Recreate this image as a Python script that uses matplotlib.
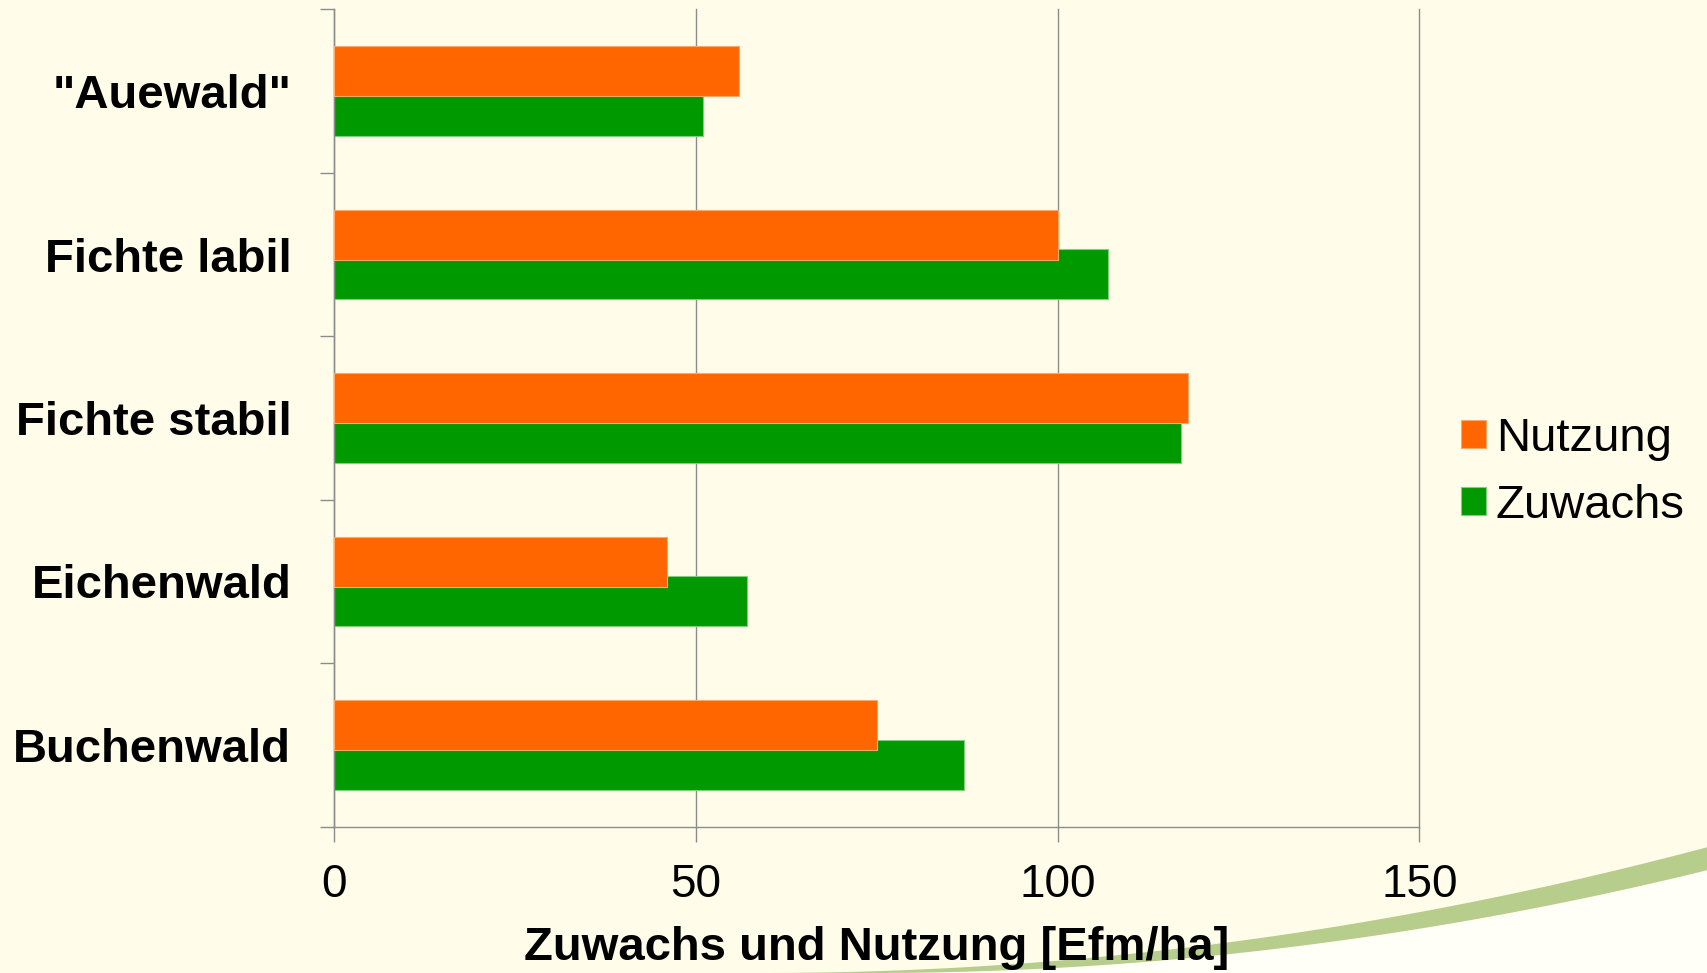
import numpy as np
import matplotlib
matplotlib.use("Agg")
import matplotlib.pyplot as plt
from matplotlib.patches import Polygon

plt.rcParams['font.family'] = ['Liberation Sans', 'DejaVu Sans']

# data, top to bottom
categories = ['"Auewald"', 'Fichte labil', 'Fichte stabil', 'Eichenwald', 'Buchenwald']
nutzung = [56, 100, 118, 46, 75]
zuwachs = [51, 107, 117, 57, 87]
x_ticks = [0, 50, 100, 150]

cream = '#fffce9'
orange = '#ff6600'
green = '#009900'
grey = '#8c8c8c'

W, H = 1708, 973
fig = plt.figure(figsize=(W / 100, H / 100), dpi=100, facecolor=cream)

# decorative swoosh in the lower right corner (pixel coords -> figure fraction)
xs_up = np.linspace(762, W, 200)
y_up = 973 - 1.408e-4 * (xs_up - 762) ** 2
xs_lo = np.linspace(870, W, 200)
y_lo = 973 - 1.467e-4 * (xs_lo - 870) ** 2
band = np.vstack([np.column_stack([xs_up, y_up]),
                  np.column_stack([xs_lo[::-1], y_lo[::-1]])])
below = np.vstack([np.column_stack([xs_lo, y_lo]), [[W, H]]])
for pts, col in [(below, '#fffff8'), (band, '#b7cd8b')]:
    p = Polygon(np.column_stack([pts[:, 0] / W, 1 - pts[:, 1] / H]),
                closed=True, transform=fig.transFigure, facecolor=col,
                edgecolor='none', zorder=-5)
    fig.patches.append(p)

ax = fig.add_axes([334.4 / W, 1 - 826.7 / H, (1419.4 - 334.4) / W, (826.7 - 9.3) / H])
ax.set_facecolor('none')
ax.set_zorder(2)

y = np.arange(len(categories))
h = 0.306
off = 0.12
ax.barh(y + off, zuwachs, height=h, color=green, edgecolor='#7fcf7f',
        linewidth=0.8, label='Zuwachs', zorder=2)
ax.barh(y - off, nutzung, height=h, color=orange, edgecolor='#ffa868',
        linewidth=0.8, label='Nutzung', zorder=3)

ax.set_xlim(0, 150)
ax.set_ylim(len(categories) - 0.5, -0.5)
ax.set_xticks(x_ticks)
ax.set_xticklabels([str(v) for v in x_ticks])
ax.set_yticks(y)
ax.set_yticklabels(categories, fontsize=34, fontweight='bold')
ax.set_yticks(np.arange(-0.5, len(categories)), minor=True)
ax.tick_params(axis='y', which='major', length=0, pad=31)
ax.tick_params(axis='y', which='minor', length=10, width=1.0, color=grey)
ax.tick_params(axis='x', length=11, width=1.0, color=grey, labelsize=33, pad=15)

ax.grid(axis='x', color=grey, linewidth=1.0, zorder=1)
for gl in ax.get_xgridlines():
    gl.set_clip_on(False)
ax.set_axisbelow(True)
for s in ['top', 'right']:
    ax.spines[s].set_visible(False)
for s in ['left', 'bottom']:
    ax.spines[s].set_color(grey)
    ax.spines[s].set_linewidth(1.0)

ax.set_xlabel('Zuwachs und Nutzung [Efm/ha]', fontsize=34, fontweight='bold')
ax.xaxis.set_label_coords(0.5, (826.7 - 948) / (826.7 - 9.3))
ax.xaxis.label.set_verticalalignment('center')

handles, labels = ax.get_legend_handles_labels()
fig.legend(handles[::-1], labels[::-1], loc='upper left',
           bbox_to_anchor=(1461 / W, 1 - 417 / H), frameon=False,
           fontsize=34, handlelength=0.52, handleheight=0.52,
           handletextpad=0.22, labelspacing=0.48, borderpad=0, borderaxespad=0)

fig.savefig('out.png', dpi=100, facecolor=cream)
